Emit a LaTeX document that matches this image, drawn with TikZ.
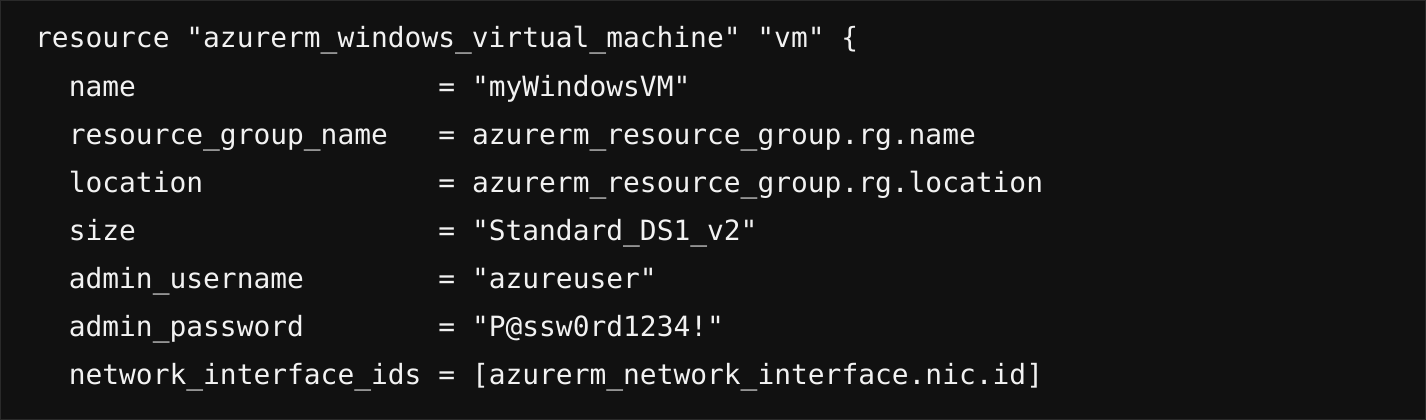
\documentclass[tikz,border=0pt]{standalone}
\usepackage{fontspec}
\setmonofont{DejaVu Sans Mono}
\definecolor{bg}{HTML}{111111}
\definecolor{fg}{HTML}{F2F2F2}
\definecolor{edge}{HTML}{2A2A2A}
\begin{document}
\begin{tikzpicture}[x=1pt,y=-1pt,
  codeline/.style={anchor=base west, inner sep=0pt, text=fg,
    font=\ttfamily\fontsize{27.9}{48}\selectfont}]
\def\cw{16.8}
\def\xo{35}
\useasboundingbox (0,0) rectangle (1426,420);
\fill[bg] (0,0) rectangle (1426,420);
\draw[edge, line width=1pt] (0.5,0.5) rectangle (1425.5,419.5);
\node[codeline] (l1) at (\xo,48) {resource "azurerm\_windows\_virtual\_machine" "vm" \{};
\foreach \y/\k/\v [count=\i] in {
  96/name/"myWindowsVM",
  144/resource\_group\_name/azurerm\_resource\_group.rg.name,
  192/location/azurerm\_resource\_group.rg.location,
  240/size/"Standard\_DS1\_v2",
  288/admin\_username/"azureuser",
  336/admin\_password/"P@ssw0rd1234!",
  384/network\_interface\_ids/[azurerm\_network\_interface.nic.id]}{
  \node[codeline] (k\i) at ({\xo+2*\cw},\y) {\k};
  \node[codeline] (e\i) at ({\xo+24*\cw},\y) {=};
  \node[codeline] (v\i) at ({\xo+26*\cw},\y) {\v};
}
\end{tikzpicture}
\end{document}
